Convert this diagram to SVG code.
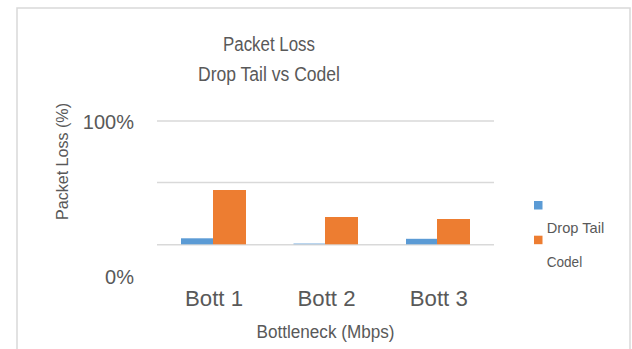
<svg xmlns="http://www.w3.org/2000/svg" width="632" height="349" viewBox="0 0 632 349">
  <style>
    text { font-family: "Liberation Sans", Arial, sans-serif; fill: #595959; }
    .frame { fill: #ffffff; stroke: #d9d9d9; stroke-width: 1.5; }
    .grid { stroke: #d9d9d9; stroke-width: 1.5; }
    .s1 { fill: #5b9bd5; }
    .s2 { fill: #ed7d31; }
    .title { font-size: 20px; text-anchor: middle; }
    .tick { font-size: 20px; text-anchor: end; }
    .cat { font-size: 21.5px; text-anchor: middle; }
    .axis { font-size: 18px; text-anchor: middle; }
    .ytitle { font-size: 16px; text-anchor: middle; }
    .legend { font-size: 15px; }
  </style>

  <!-- chart area frame (runs past the bottom edge) -->
  <rect class="frame" x="17" y="8" width="613" height="360"/>

  <!-- title -->
  <g id="title">
    <text class="title" x="269" y="51" textLength="92" lengthAdjust="spacingAndGlyphs">Packet Loss</text>
    <text class="title" x="269" y="81" textLength="142" lengthAdjust="spacingAndGlyphs">Drop Tail vs Codel</text>
  </g>

  <!-- gridlines -->
  <g id="gridlines">
    <line class="grid" x1="157" y1="121" x2="494" y2="121"/>
    <line class="grid" x1="157" y1="182.5" x2="494" y2="182.5"/>
    <line class="grid" x1="157" y1="244.8" x2="494" y2="244.8"/>
  </g>

  <!-- value axis -->
  <g id="value-axis">
    <text class="tick" x="134" y="129">100%</text>
    <text class="tick" x="134" y="284">0%</text>
    <text class="ytitle" transform="translate(68 161.5) rotate(-90)" textLength="117" lengthAdjust="spacingAndGlyphs">Packet Loss (%)</text>
  </g>

  <!-- bars -->
  <g id="bott1">
    <rect class="s1" x="181" y="238.3" width="32" height="6"/>
    <rect class="s2" x="213" y="190" width="33" height="54.3"/>
  </g>
  <g id="bott2">
    <rect class="s1" x="293.5" y="243.3" width="31.5" height="1" opacity="0.6"/>
    <rect class="s2" x="325" y="217" width="33" height="27.3"/>
  </g>
  <g id="bott3">
    <rect class="s1" x="406" y="238.8" width="31" height="5.5"/>
    <rect class="s2" x="437" y="219" width="33" height="25.3"/>
  </g>

  <!-- category axis -->
  <g id="category-axis">
    <text class="cat" x="214" y="305.5" textLength="58" lengthAdjust="spacingAndGlyphs">Bott 1</text>
    <text class="cat" x="326.5" y="305.5" textLength="58" lengthAdjust="spacingAndGlyphs">Bott 2</text>
    <text class="cat" x="438.8" y="305.5" textLength="58" lengthAdjust="spacingAndGlyphs">Bott 3</text>
    <text class="axis" x="325.5" y="338" textLength="138" lengthAdjust="spacingAndGlyphs">Bottleneck (Mbps)</text>
  </g>

  <!-- legend -->
  <g id="legend">
    <rect class="s1" x="534" y="201" width="8.5" height="8.5"/>
    <text class="legend" x="546.7" y="233.3" textLength="57.5" lengthAdjust="spacingAndGlyphs">Drop Tail</text>
    <rect class="s2" x="534" y="235.7" width="8.5" height="8.5"/>
    <text class="legend" x="546.7" y="267.3" textLength="35.5" lengthAdjust="spacingAndGlyphs">Codel</text>
  </g>
</svg>
